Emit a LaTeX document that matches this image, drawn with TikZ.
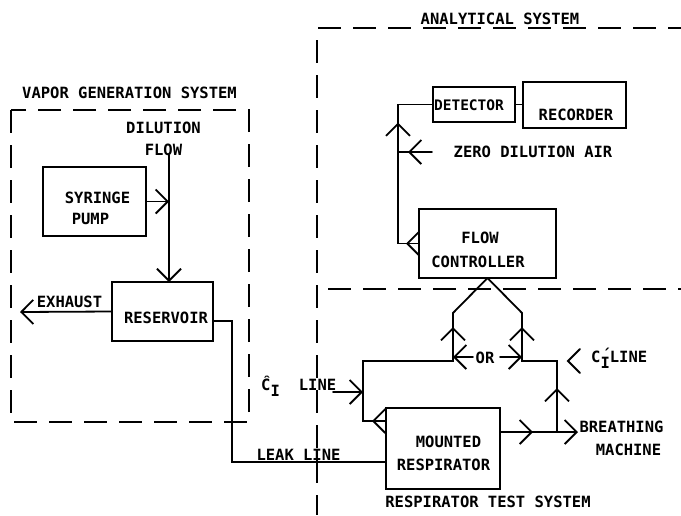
\documentclass[tikz,border=0pt]{standalone}
\usepackage{fontspec}
\setmainfont{DejaVu Sans Mono}
\usetikzlibrary{arrows.meta,decorations.markings}
\tikzset{
  chev/.tip={Straight Barb[length=12pt,width=24pt]},
  ln/.style={line width=1.8pt, line cap=round, line join=miter},
  dsh/.style={line width=1.8pt, dash pattern=on 23pt off 12pt},
  box/.style={draw, line width=1.8pt, inner sep=0pt, outer sep=0pt},
  txt/.style={font=\fontsize{15.5pt}{23pt}\selectfont\bfseries, inner sep=0pt},
  smalltxt/.style={font=\fontsize{14.5pt}{20pt}\selectfont\bfseries, inner sep=0pt},
  tipat/.style={postaction={decorate,
      decoration={markings, mark=at position #1 with {\arrow{chev}}}}},
}
\begin{document}
\begin{tikzpicture}[x=1pt, y=-1pt]
\useasboundingbox (0,0) rectangle (681,515);

% system boundaries
\draw[dsh] (11,110) rectangle (249,422);
\draw[dsh] (318,28) -- (681,28);
\draw[dsh] (317,40) -- (317,515);
\draw[dsh] (328,289) -- (681,289);

% boxes
\node[box, minimum width=103pt, minimum height=69pt] (syr) at (94.5,201.5) {};
\node[box, minimum width=101pt, minimum height=59pt] (res) at (162.5,311.5) {};
\node[box, minimum width=82pt, minimum height=35pt] (det) at (474,104.5) {};
\node[box, minimum width=103pt, minimum height=46pt] (rec) at (574.5,105) {};
\node[box, minimum width=137pt, minimum height=69pt] (fc) at (487.5,243.5) {};
\node[box, minimum width=114pt, minimum height=81pt] (resp) at (443,448.5) {};

% texts
\node[txt] at (129.5,93) {VAPOR GENERATION SYSTEM};
\node[txt] at (163.5,128) {DILUTION};
\node[txt] at (163.5,150) {FLOW};
\node[txt] at (97.5,198) {SYRINGE};
\node[txt] at (90.5,219) {PUMP};
\node[txt] at (69.5,302) {EXHAUST};
\node[txt] at (166,318) {RESERVOIR};
\node[txt] at (500,19) {ANALYTICAL SYSTEM};
\node[smalltxt] at (469,105) {DETECTOR};
\node[txt] at (576,115) {RECORDER};
\node[txt] at (533,152) {ZERO DILUTION AIR};
\node[txt] at (480,238) {FLOW};
\node[txt] at (478,262) {CONTROLLER};
\node[txt] at (485,358) {OR};
\node[txt, anchor=base west] at (261,390) {Ĉ\raisebox{-6pt}{I}\hspace{19pt}LINE};
\node[txt, anchor=base west] at (591,362) {C\rlap{\raisebox{2pt}{\kern1pt ´}}\raisebox{-6pt}{I}LINE};
\node[txt] at (621.5,427) {BREATHING};
\node[txt] at (628.5,450) {MACHINE};
\node[txt] at (298.5,455) {LEAK LINE};
\node[txt] at (448.5,442) {MOUNTED};
\node[txt] at (443.5,465) {RESPIRATOR};
\node[txt] at (488,502) {RESPIRATOR TEST SYSTEM};

% vapor generation connectors
\coordinate (dtop) at (169,155);
\coordinate (exh) at (20,312);
\draw[ln,-chev] (syr.east) -- (syr.east -| dtop);
\draw[ln,-chev] (dtop) -- (dtop |- res.north);
\draw[ln,-chev] (res.west) -- (exh);

% leak line
\coordinate (lk1) at (232,321);
\coordinate (lk2) at (232,462);
\draw[ln] (res.east |- lk1) -- (lk1) -- (lk2) -- (lk2 -| resp.west);

% analytical loop
\coordinate (dl) at (398,105);
\draw[ln, tipat=13pt, tipat=142pt] (fc.west) -- (fc.west -| dl) -- (dl |- det.west) -- (det.west);
\draw[ln] (det.east) -- (det.east -| rec.west);
\coordinate (zda) at (432,152);
\draw[ln, tipat=24pt] (zda) -- (zda -| dl);

% sampling lines into the flow controller
\coordinate (lrA) at (363,421);
\coordinate (lrB) at (363,361);
\coordinate (lrC) at (453,361);
\coordinate (lrD) at (453,313);
\draw[ln, tipat=14pt, tipat=207pt] (lrA -| resp.west) -- (lrA) -- (lrB) -- (lrC) -- (lrD) -- (fc.south);
\coordinate (rA) at (557,432);
\coordinate (rB) at (557,361);
\coordinate (rC) at (522,361);
\coordinate (rD) at (522,313);
\draw[ln, tipat=44pt, tipat=140pt] (rA) -- (rB) -- (rC) -- (rD) -- (fc.south);

% OR selector
\coordinate (orL) at (473,357);
\coordinate (orR) at (500,357);
\draw[ln,-chev] (orL) -- (orL -| lrC);
\draw[ln,-chev] (orR) -- (orR -| rC);

% inlet line
\coordinate (ci) at (333,392);
\draw[ln,-chev] (ci) -- (ci -| lrA);

% breathing machine
\coordinate (bm) at (578,432);
\draw[ln, -chev, tipat=33pt] (resp.east |- bm) -- (bm);

% inlet mark at the C'_I line
\coordinate (cpt) at (568,361);
\draw[ln] ([shift={(12,-12)}]cpt) -- (cpt) -- ([shift={(12,12)}]cpt);
\end{tikzpicture}
\end{document}
